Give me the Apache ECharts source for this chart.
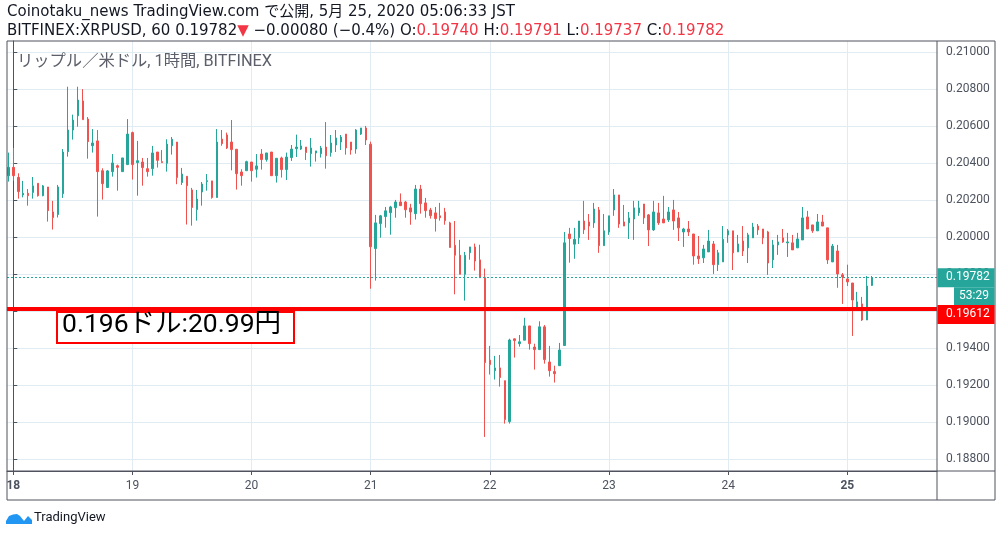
<!DOCTYPE html>
<html>
<head>
<meta charset="utf-8">
<title>XRPUSD 1h</title>
<script src="https://cdn.jsdelivr.net/npm/echarts@6/dist/echarts.min.js"></script>
<style>
  html, body { margin: 0; padding: 0; background: #fff; }
  #chart { width: 1002px; height: 537px; }
</style>
</head>
<body>
<div id="chart"></div>
<script>
"use strict";

// hourly candles, first one is 17 23:00 (hour -1 counted from 18 00:00)
var firstHour = -1;

var openPrices = [
  0.20333, 0.20378, 0.20324, 0.20229, 0.20238, 0.20242, 0.20292, 0.20225, 0.20272, 0.20137,
  0.20123, 0.20236, 0.20463, 0.20580, 0.20657, 0.20737, 0.20639, 0.20495, 0.20521, 0.20360,
  0.20269, 0.20355, 0.20387, 0.20355, 0.20393, 0.20566, 0.20404, 0.20407, 0.20371, 0.20371,
  0.20461, 0.20409, 0.20400, 0.20495, 0.20515, 0.20296, 0.20330, 0.20256, 0.20150, 0.20245,
  0.20301, 0.20305, 0.20215, 0.20531, 0.20553, 0.20515, 0.20476, 0.20353, 0.20360, 0.20407,
  0.20368, 0.20450, 0.20420, 0.20461, 0.20333, 0.20429, 0.20366, 0.20431, 0.20479, 0.20477,
  0.20488, 0.20452, 0.20456, 0.20452, 0.20488, 0.20458, 0.20499, 0.20515, 0.20558, 0.20515,
  0.20477, 0.20558, 0.20591, 0.20503, 0.19939, 0.20074, 0.20112, 0.20133, 0.20160, 0.20191,
  0.20191, 0.20159, 0.20128, 0.20261, 0.20186, 0.20148, 0.20132, 0.20116, 0.20137, 0.20078,
  0.19957, 0.19903, 0.19800, 0.19917, 0.19948, 0.19878, 0.19782, 0.19336, 0.19279, 0.19294,
  0.19225, 0.19004, 0.19451, 0.19425, 0.19444, 0.19521, 0.19407, 0.19393, 0.19516, 0.19326,
  0.19274, 0.19306, 0.19415, 0.20018, 0.19963, 0.19997, 0.20088, 0.20083, 0.20078, 0.20148,
  0.19955, 0.20029, 0.20148, 0.20229, 0.20083, 0.20078, 0.20099, 0.20132, 0.20180, 0.20121,
  0.20040, 0.20132, 0.20099, 0.20094, 0.20148, 0.20105, 0.20029, 0.20045, 0.20018, 0.19899,
  0.19889, 0.19921, 0.19964, 0.19852, 0.19867, 0.20013, 0.20035, 0.19921, 0.19980, 0.19943,
  0.19997, 0.20061, 0.20045, 0.20029, 0.19878, 0.19959, 0.19997, 0.19970, 0.19970, 0.19943,
  0.19986, 0.20110, 0.20067, 0.20035, 0.20083, 0.20051, 0.19867, 0.19926, 0.19797, 0.19775,
  0.19753, 0.19613, 0.19640, 0.19553, 0.19740
];

var closePrices = [
  0.20378, 0.20333, 0.20247, 0.20238, 0.20225, 0.20278, 0.20225, 0.20278, 0.20144, 0.20107,
  0.20272, 0.20461, 0.20580, 0.20634, 0.20742, 0.20636, 0.20517, 0.20510, 0.20355, 0.20290,
  0.20359, 0.20402, 0.20378, 0.20429, 0.20558, 0.20393, 0.20414, 0.20377, 0.20355, 0.20456,
  0.20416, 0.20404, 0.20504, 0.20530, 0.20323, 0.20342, 0.20279, 0.20161, 0.20207, 0.20288,
  0.20306, 0.20215, 0.20515, 0.20506, 0.20483, 0.20474, 0.20344, 0.20333, 0.20409, 0.20360,
  0.20386, 0.20420, 0.20456, 0.20333, 0.20427, 0.20366, 0.20434, 0.20477, 0.20488, 0.20494,
  0.20458, 0.20483, 0.20467, 0.20483, 0.20441, 0.20510, 0.20537, 0.20542, 0.20483, 0.20472,
  0.20580, 0.20591, 0.20526, 0.19949, 0.20078, 0.20116, 0.20143, 0.20164, 0.20191, 0.20171,
  0.20149, 0.20137, 0.20261, 0.20182, 0.20144, 0.20117, 0.20101, 0.20106, 0.20090, 0.19945,
  0.19903, 0.19800, 0.19903, 0.19948, 0.19872, 0.19782, 0.19323, 0.19312, 0.19294, 0.19242,
  0.19015, 0.19445, 0.19442, 0.19435, 0.19521, 0.19425, 0.19393, 0.19516, 0.19339, 0.19279,
  0.19263, 0.19391, 0.19970, 0.19993, 0.19989, 0.20088, 0.20041, 0.20061, 0.20153, 0.19955,
  0.20035, 0.20116, 0.20229, 0.20072, 0.20061, 0.20105, 0.20159, 0.20159, 0.20105, 0.20040,
  0.20137, 0.20078, 0.20078, 0.20137, 0.20088, 0.20051, 0.20045, 0.20029, 0.19899, 0.19884,
  0.19937, 0.19980, 0.19852, 0.19916, 0.19989, 0.20035, 0.19916, 0.19964, 0.19926, 0.20013,
  0.20056, 0.20040, 0.19997, 0.19861, 0.19959, 0.19975, 0.19975, 0.19975, 0.19932, 0.19991,
  0.20105, 0.20045, 0.20035, 0.20083, 0.20061, 0.19878, 0.19953, 0.19802, 0.19786, 0.19759,
  0.19661, 0.19651, 0.19553, 0.19737, 0.19782
];

var lowPrices = [
  0.20301, 0.20306, 0.20209, 0.20216, 0.20171, 0.20209, 0.20220, 0.20222, 0.20085, 0.20042,
  0.20107, 0.20213, 0.20436, 0.20528, 0.20598, 0.20636, 0.20425, 0.20458, 0.20112, 0.20204,
  0.20269, 0.20328, 0.20252, 0.20355, 0.20393, 0.20312, 0.20225, 0.20279, 0.20328, 0.20333,
  0.20377, 0.20404, 0.20355, 0.20447, 0.20287, 0.20283, 0.20069, 0.20063, 0.20090, 0.20171,
  0.20252, 0.20209, 0.20215, 0.20495, 0.20477, 0.20362, 0.20258, 0.20279, 0.20360, 0.20301,
  0.20323, 0.20366, 0.20409, 0.20333, 0.20296, 0.20323, 0.20310, 0.20413, 0.20434, 0.20472,
  0.20418, 0.20382, 0.20409, 0.20431, 0.20371, 0.20436, 0.20461, 0.20472, 0.20447, 0.20447,
  0.20452, 0.20553, 0.20499, 0.19722, 0.19766, 0.19998, 0.20052, 0.20014, 0.20106, 0.20171,
  0.20106, 0.20068, 0.20096, 0.20128, 0.20106, 0.20101, 0.20031, 0.20090, 0.20068, 0.19945,
  0.19692, 0.19800, 0.19658, 0.19879, 0.19820, 0.19782, 0.18921, 0.19258, 0.19231, 0.19193,
  0.18993, 0.18993, 0.19350, 0.19409, 0.19444, 0.19393, 0.19285, 0.19393, 0.19317, 0.19247,
  0.19215, 0.19306, 0.19415, 0.19863, 0.19884, 0.19964, 0.20018, 0.19986, 0.20051, 0.19916,
  0.19955, 0.20013, 0.20116, 0.20051, 0.20061, 0.19991, 0.19986, 0.20116, 0.20072, 0.19953,
  0.20035, 0.20067, 0.20078, 0.20083, 0.20040, 0.19980, 0.19948, 0.20007, 0.19852, 0.19856,
  0.19861, 0.19921, 0.19802, 0.19818, 0.19867, 0.19970, 0.19823, 0.19921, 0.19899, 0.19861,
  0.19997, 0.20013, 0.19963, 0.19797, 0.19834, 0.19905, 0.19970, 0.19894, 0.19932, 0.19943,
  0.19986, 0.20045, 0.20024, 0.20035, 0.20061, 0.19856, 0.19867, 0.19727, 0.19640, 0.19737,
  0.19467, 0.19613, 0.19548, 0.19553, 0.19737
];

var highPrices = [
  0.20458, 0.20483, 0.20346, 0.20305, 0.20261, 0.20326, 0.20292, 0.20283, 0.20272, 0.20197,
  0.20283, 0.20477, 0.20814, 0.20663, 0.20814, 0.20801, 0.20650, 0.20585, 0.20580, 0.20373,
  0.20364, 0.20450, 0.20393, 0.20429, 0.20639, 0.20571, 0.20521, 0.20429, 0.20429, 0.20494,
  0.20461, 0.20472, 0.20530, 0.20542, 0.20515, 0.20375, 0.20330, 0.20267, 0.20256, 0.20299,
  0.20342, 0.20305, 0.20585, 0.20580, 0.20566, 0.20634, 0.20476, 0.20368, 0.20414, 0.20407,
  0.20450, 0.20477, 0.20456, 0.20461, 0.20427, 0.20436, 0.20458, 0.20499, 0.20555, 0.20526,
  0.20488, 0.20537, 0.20467, 0.20494, 0.20623, 0.20553, 0.20580, 0.20553, 0.20558, 0.20515,
  0.20585, 0.20591, 0.20602, 0.20517, 0.20121, 0.20121, 0.20164, 0.20170, 0.20202, 0.20237,
  0.20197, 0.20181, 0.20283, 0.20283, 0.20213, 0.20159, 0.20164, 0.20186, 0.20159, 0.20084,
  0.20088, 0.19986, 0.19921, 0.19948, 0.19966, 0.19960, 0.19831, 0.19413, 0.19359, 0.19364,
  0.19225, 0.19452, 0.19454, 0.19472, 0.19565, 0.19521, 0.19425, 0.19546, 0.19526, 0.19413,
  0.19306, 0.19429, 0.20029, 0.20051, 0.20051, 0.20088, 0.20197, 0.20126, 0.20186, 0.20164,
  0.20126, 0.20116, 0.20261, 0.20229, 0.20175, 0.20137, 0.20197, 0.20197, 0.20180, 0.20126,
  0.20197, 0.20186, 0.20224, 0.20164, 0.20202, 0.20137, 0.20051, 0.20088, 0.20018, 0.20007,
  0.19959, 0.20040, 0.19980, 0.19932, 0.20061, 0.20045, 0.20035, 0.20013, 0.20061, 0.20024,
  0.20078, 0.20072, 0.20045, 0.20035, 0.19986, 0.20013, 0.20045, 0.20024, 0.20013, 0.20024,
  0.20164, 0.20143, 0.20067, 0.20126, 0.20121, 0.20051, 0.19964, 0.19959, 0.19807, 0.19852,
  0.19753, 0.19705, 0.19678, 0.19791, 0.19791
];

// x axis: one tick per day at 00:00
var dayTicks = [0, 24, 48, 72, 96, 120, 144, 168];
var dayLabels = ['18', '19', '20', '21', '22', '23', '24', '25'];
var boldDays = ['18', '25'];

// y axis
var priceTicks = [0.188, 0.190, 0.192, 0.194, 0.196, 0.198, 0.200, 0.202, 0.204, 0.206, 0.208, 0.210];

var lastPrice = 0.19782;
var linePrice = 0.19612;
var countdown = '53:29';

var titleText = 'Coinotaku_news TradingView.com で公開, 5月 25, 2020 05:06:33 JST';
var watermarkText = 'リップル／米ドル, 1時間, BITFINEX';
var noteText = '0.196ドル:20.99円';

var UP = '#26a69a', DOWN = '#ef5350', FRAME = '#50535e', TEXT = '#131722', GRID = '#e1ecf2';
var FONT = 'Roboto, "Noto Sans CJK JP", sans-serif';
var HEAD_FONT = '"DejaVu Sans", "Noto Sans CJK JP", sans-serif';

var chart;

initializeChart();

/**
 * build the candle rows [x, open, close, low, high]
 */
function buildCandles() {
  var rows = [];
  for (var i = 0; i < openPrices.length; i++) {
    rows.push([firstHour + i, openPrices[i], closePrices[i], lowPrices[i], highPrices[i]]);
  }
  return rows;
}

/**
 * text element helper, x/y is the top left corner
 */
function label(x, y, text, font, fill, z, rich) {
  return {
    type: 'text', x: x, y: y, z: z || 20,
    style: { text: text, font: font, fill: fill, verticalAlign: 'top', align: 'left', rich: rich }
  };
}

/**
 * header lines, watermark, note box, frame and logo
 */
function buildGraphics() {
  var hf = '15px ' + HEAD_FONT;
  return [
    label(7, 5, titleText, hf, TEXT),
    label(7, 24,
      'BITFINEX:XRPUSD, 60 0.19782{r|▼} −0.00080 (−0.4%) O:{r|0.19740} H:{r|0.19791} L:{r|0.19737} C:{r|0.19782}',
      hf, TEXT, 20, { r: { fill: '#f23645', font: hf } }),
    label(17, 54, watermarkText, '16.3px ' + FONT, '#5d606b', 1),
    // outer frame and pane separators
    { type: 'rect', shape: { x: 7, y: 41, width: 988, height: 459 }, style: { fill: null, stroke: FRAME, lineWidth: 1 }, z: 10 },
    { type: 'line', shape: { x1: 937, y1: 41, x2: 937, y2: 500 }, style: { stroke: FRAME, lineWidth: 1 }, z: 10 },
    { type: 'line', shape: { x1: 7, y1: 471, x2: 995, y2: 471 }, style: { stroke: FRAME, lineWidth: 1 }, z: 10 },
    // note box
    { type: 'rect', shape: { x: 57, y: 312, width: 237, height: 31 }, style: { fill: '#fff', stroke: '#ff0000', lineWidth: 2 }, z: 20 },
    label(62, 312, noteText, '26.5px ' + FONT, '#000', 21),
    // logo
    {
      type: 'polygon', z: 10,
      shape: { points: [[6, 524], [6, 521], [9, 516], [13, 514.5], [17, 514], [20, 516], [24, 521], [28, 516], [32, 520], [32, 524]] },
      style: { fill: '#2196f3' }
    },
    label(34, 511, 'TradingView', '13px ' + FONT, TEXT)
  ];
}

/**
 * price boxes on the right axis, placed from the y scale
 */
function buildPriceBoxes() {
  var yLast = chart.convertToPixel({ yAxisIndex: 0 }, lastPrice);
  var yLine = chart.convertToPixel({ yAxisIndex: 0 }, linePrice);
  var f = '12px ' + FONT;
  return [
    { type: 'rect', shape: { x: 937.5, y: yLast - 9.5, width: 57, height: 19 }, style: { fill: UP }, z: 30 },
    label(946, yLast - 7, lastPrice.toFixed(5), f, '#fff', 31),
    { type: 'rect', shape: { x: 954, y: yLast + 9.5, width: 40.5, height: 18 }, style: { fill: UP }, z: 30 },
    label(959, yLast + 12, countdown, f, '#fff', 31),
    { type: 'rect', shape: { x: 937.5, y: yLine - 4, width: 57, height: 19 }, style: { fill: '#ff0000' }, z: 30 },
    label(946, yLine - 1, linePrice.toFixed(5), f, '#fff', 31)
  ];
}

/**
 * initialize Chart
 */
function initializeChart() {
  chart = echarts.init(document.getElementById('chart'));
  var option = {
    animation: false,
    backgroundColor: '#fff',
    grid: { left: 7, top: 41, right: 65, bottom: 66, outerBoundsMode: 'none' },
    xAxis: {
      type: 'value',
      min: -1.269,
      max: 186.07,
      axisLine: { show: true, lineStyle: { color: FRAME } },
      axisTick: { show: true, length: 4, customValues: dayTicks, lineStyle: { color: FRAME } },
      splitLine: { show: true, lineStyle: { color: GRID } },
      axisLabel: {
        customValues: dayTicks,
        margin: 9,
        color: '#4c525e',
        fontFamily: FONT,
        fontSize: 12,
        formatter: function (v) {
          var txt = dayLabels[dayTicks.indexOf(v)] || '';
          return boldDays.indexOf(txt) !== -1 ? '{b|' + txt + '}' : txt;
        },
        rich: { b: { fontWeight: 'bold', color: '#4c525e', fontFamily: FONT, fontSize: 12 } }
      }
    },
    yAxis: {
      type: 'value',
      position: 'right',
      min: 0.187368,
      max: 0.210611,
      scale: true,
      axisLine: { show: true, lineStyle: { color: FRAME } },
      axisTick: { show: true, length: 4, customValues: priceTicks, lineStyle: { color: FRAME } },
      splitLine: { show: true, lineStyle: { color: GRID } },
      axisLabel: {
        customValues: priceTicks,
        margin: 9,
        color: '#4c525e',
        fontFamily: FONT,
        fontSize: 12,
        formatter: function (v) { return v.toFixed(5); }
      }
    },
    series: [{
      type: 'candlestick',
      data: buildCandles(),
      barWidth: 2,
      itemStyle: {
        color: UP, color0: DOWN,
        borderColor: UP, borderColor0: DOWN,
        borderWidth: 1
      },
      markLine: {
        silent: true,
        symbol: 'none',
        precision: 5,
        label: { show: false },
        data: [
          { yAxis: lastPrice, lineStyle: { color: UP, type: [2, 2], width: 1 } },
          { yAxis: linePrice, lineStyle: { color: '#ff0000', type: 'solid', width: 4 } }
        ]
      }
    }],
    graphic: buildGraphics()
  };
  chart.setOption(option);
  chart.setOption({ graphic: buildGraphics().concat(buildPriceBoxes()) }, { replaceMerge: ['graphic'] });
}
</script>
</body>
</html>
